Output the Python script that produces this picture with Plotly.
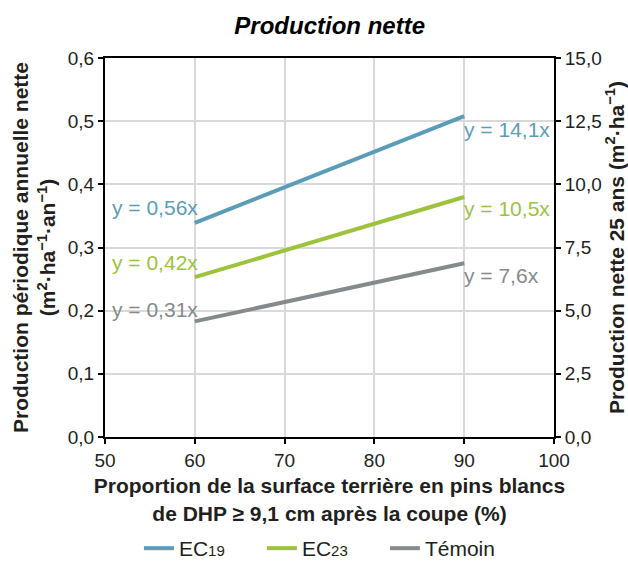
import plotly.graph_objects as go

x_prop = [60, 90]
ec19 = [0.339, 0.508]
ec23 = [0.253, 0.380]
temoin = [0.183, 0.275]

series_names = ["EC<span style='font-size:15px'>19</span>",
                "EC<span style='font-size:15px'>23</span>", "Témoin"]
series_vals = [ec19, ec23, temoin]
colors = ["#5B9DB8", "#9CC33B", "#858B8C"]
left_labels = ["y = 0,56x", "y = 0,42x", "y = 0,31x"]
left_label_y = [0.364, 0.276, 0.202]
right_labels = ["y = 14,1x", "y = 10,5x", "y = 7,6x"]
right_label_y = [0.487, 0.362, 0.256]

FONT = "Liberation Sans, Arial, sans-serif"
TXT = "#231F20"

fig = go.Figure()
for name, vals, c in zip(series_names, series_vals, colors):
    fig.add_trace(go.Scatter(x=x_prop, y=vals, mode="lines", name=name,
                             line=dict(color=c, width=4)))
# invisible trace on right axis (25-year production)
fig.add_trace(go.Scatter(x=x_prop, y=[v * 25 for v in ec19], yaxis="y2",
                         mode="lines", line=dict(width=0), opacity=0,
                         showlegend=False, hoverinfo="skip"))

annotations = []
for t, yv, c in zip(left_labels, left_label_y, colors):
    annotations.append(dict(x=50.6, y=yv, xref="x", yref="y", text=t, showarrow=False,
                            xanchor="left", yanchor="middle",
                            font=dict(size=21, color=c, family=FONT)))
for t, yv, c in zip(right_labels, right_label_y, colors):
    annotations.append(dict(x=89.8, y=yv, xref="x", yref="y", text=t, showarrow=False,
                            xanchor="left", yanchor="middle",
                            font=dict(size=21, color=c, family=FONT)))

axis_common = dict(showline=True, linecolor="black", linewidth=2, ticks="outside",
                   ticklen=5, tickcolor="black", tickwidth=2, zeroline=False,
                   automargin=False, tickfont=dict(size=19, color=TXT))

fig.update_layout(
    width=628, height=562,
    margin=dict(l=105, r=74, t=58, b=125, autoexpand=False),
    paper_bgcolor="white", plot_bgcolor="white",
    separators=", ",
    font=dict(family=FONT, color=TXT),
    title=dict(text="<b><i>Production nette</i></b>", x=0.525, xanchor="center",
               y=0.955, yanchor="middle", font=dict(size=24, color="black", family=FONT)),
    xaxis=dict(range=[50, 100], dtick=10, mirror=True,
               showgrid=True, gridcolor="#D9D9D9", gridwidth=1.5,
               title=dict(text="<b>Proportion de la surface terrière en pins blancs<br>de DHP ≥ 9,1 cm après la coupe (%)</b>",
                          font=dict(size=21, color=TXT), standoff=9),
               **axis_common),
    yaxis=dict(range=[0, 0.6], dtick=0.1, tickformat=".1f",
               showgrid=True, gridcolor="#D9D9D9", gridwidth=1.5,
               title=dict(text="<b>Production périodique annuelle nette<br>(m<sup>2</sup>·ha<sup>−1</sup>·an<sup>−1</sup>)</b>",
                          font=dict(size=21, color=TXT), standoff=6),
               **axis_common),
    yaxis2=dict(range=[0, 15], dtick=2.5, tickformat=".1f", overlaying="y", side="right",
                showgrid=False,
                title=dict(text="<b>Production nette 25 ans (m<sup>2</sup>·ha<sup>−1</sup>)</b>",
                           font=dict(size=21, color=TXT), standoff=6),
                **axis_common),
    legend=dict(orientation="h", xref="container", x=0.515, xanchor="center",
                yref="container", y=0.024, yanchor="middle",
                font=dict(size=21, color=TXT), itemwidth=30, entrywidth=78,
                tracegroupgap=0),
    annotations=annotations,
    showlegend=True,
)

fig.write_html("out.html")
